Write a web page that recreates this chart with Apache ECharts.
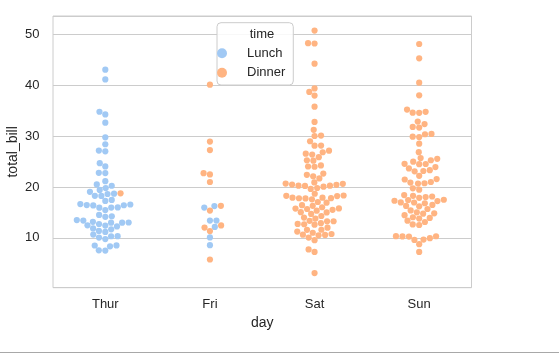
<!DOCTYPE html>
<html>
<head>
<meta charset="utf-8">
<script src="https://cdn.jsdelivr.net/npm/echarts@6/dist/echarts.min.js"></script>
<style>
html,body{margin:0;padding:0;background:#ffffff;}
#chart{width:559px;height:355px;}
</style>
</head>
<body>
<div id="chart"></div>
<script>
// ---- data (tips dataset: total_bill by day and time) ----
const days = ['Thur', 'Fri', 'Sat', 'Sun'];
const times = ['Lunch', 'Dinner'];
const yTickLabels = [10, 20, 30, 40, 50];

const thurLunch = [27.20, 22.76, 17.29, 19.44, 16.66, 10.07, 32.68, 15.98, 34.83, 13.03, 18.28, 24.71, 21.16,
  10.65, 12.43, 24.08, 11.69, 13.42, 14.26, 15.95, 12.48, 29.80, 8.52, 14.52, 11.38, 22.82, 19.08, 20.27,
  11.17, 12.26, 18.26, 8.51, 10.33, 14.15, 16.00, 13.16, 17.47, 34.30, 41.19, 27.05, 16.43, 8.35, 18.64,
  11.87, 9.78, 7.51, 19.81, 28.44, 15.48, 16.58, 7.56, 10.34, 43.11, 13.00, 13.51, 18.71, 12.74, 13.00,
  16.40, 20.53, 16.47];
const thurDinner = [18.78];

const friDinner = [28.97, 22.49, 5.75, 16.32, 22.75, 40.17, 27.28, 12.03, 21.01, 12.46, 11.35, 15.38];
const friLunch = [12.16, 13.42, 8.58, 15.98, 13.42, 16.27, 10.09];

const satDinner = [20.65, 17.92, 20.29, 15.77, 39.42, 19.82, 17.81, 13.37, 12.69, 21.70, 19.65, 9.55, 18.35,
  15.06, 20.69, 17.78, 24.06, 16.31, 16.93, 18.69, 31.27, 16.04,
  38.01, 26.41, 11.24, 48.27, 20.29, 13.81, 11.02, 18.29, 17.59, 20.08, 16.45, 3.07, 20.23, 15.01, 12.02,
  17.07, 26.86, 25.28, 14.73, 10.51, 17.92,
  44.30, 22.42, 20.92, 15.36, 20.49, 25.21, 18.24, 14.31, 14.00, 7.25,
  10.59, 10.63, 50.81, 15.81,
  26.59, 38.73, 24.27, 12.76, 30.06, 25.89, 48.33, 13.27, 28.17, 12.90, 28.15, 11.59, 7.74, 30.14,
  20.45, 13.28, 22.12, 24.01, 15.69, 11.61, 10.77, 15.53, 10.07, 12.60, 32.83, 35.83, 29.03, 27.18, 22.67, 17.82];

const sunDinner = [16.99, 10.34, 21.01, 23.68, 24.59, 25.29, 8.77, 26.88, 15.04, 14.78, 10.27, 35.26, 15.42,
  18.43, 14.83, 21.58, 10.33, 16.29, 16.97,
  17.46, 13.94, 9.68, 30.40, 18.29, 22.23, 32.40, 28.55, 18.04, 12.54, 10.29, 34.81, 9.94, 25.56, 19.49,
  38.07, 23.95, 25.71, 17.31, 29.93,
  14.07, 13.13, 17.26, 24.55, 19.77, 29.85, 48.17, 25.00, 13.39, 16.49, 21.50, 12.66, 16.21, 13.81, 17.51,
  24.52, 20.76, 31.71,
  7.25, 31.85, 16.82, 32.90, 17.89, 14.48, 9.60, 34.63, 34.65, 23.33, 45.35, 23.17, 40.55, 20.69, 20.90,
  30.46, 18.15, 23.10, 15.69];

// groups per day, in data order (used as tie-break in the swarm)
const dayGroups = [
  [[thurLunch, 'Lunch'], [thurDinner, 'Dinner']],
  [[friDinner, 'Dinner'], [friLunch, 'Lunch']],
  [[satDinner, 'Dinner']],
  [[sunDinner, 'Dinner']]
];

const colors = { Lunch: '#a1c9f4', Dinner: '#ffb482' };
const textColor = '#262626';
const fontFam = '"Liberation Sans", Arial, sans-serif';
const SWARM_D = 6.2;      // marker collision diameter, px
const MARK_SIZE = 6.2;    // drawn marker size, px

const chart = echarts.init(document.getElementById('chart'), null, { renderer: 'canvas' });

const baseOption = {
  animation: false,
  backgroundColor: '#ffffff',
  textStyle: { fontFamily: fontFam },
  grid: {
    left: 53, top: 16, right: 87.5, bottom: 67.3,
    show: true, borderColor: '#cccccc', borderWidth: 1, backgroundColor: 'transparent',
    containLabel: false, outerBoundsMode: 'none'
  },
  xAxis: [
    {
      type: 'category', data: days, boundaryGap: true, position: 'bottom',
      axisLine: { show: false }, axisTick: { show: false }, splitLine: { show: false },
      axisLabel: { color: textColor, fontSize: 13, margin: 10, fontFamily: fontFam },
      name: 'day', nameLocation: 'middle', nameGap: 28, nameMoveOverlap: false,
      nameTextStyle: { color: textColor, fontSize: 14, fontFamily: fontFam }
    },
    { type: 'value', min: -0.5, max: 3.5, show: false, position: 'bottom' }
  ],
  yAxis: {
    type: 'value', min: 0.2, max: 53.68, splitNumber: 5,
    axisLine: { show: false }, axisTick: { show: false },
    splitLine: { show: true, lineStyle: { color: '#cccccc', width: 1 } },
    axisLabel: {
      color: textColor, fontSize: 13, margin: 13.5, fontFamily: fontFam,
      showMinLabel: false, showMaxLabel: false,
      formatter: v => (yTickLabels.indexOf(Math.round(v * 100) / 100) >= 0 ? String(v) : '')
    },
    name: 'total_bill', nameLocation: 'middle', nameGap: 33, nameMoveOverlap: false,
    nameTextStyle: { color: textColor, fontSize: 14, fontFamily: fontFam }
  },
  series: []
};

chart.setOption(baseOption);

// pixel scales from the library's axes
const yPx0 = chart.convertToPixel({ yAxisIndex: 0 }, 0);
const yPx1 = chart.convertToPixel({ yAxisIndex: 0 }, 10);
const pxPerY = Math.abs(yPx1 - yPx0) / 10;
const xPx0 = chart.convertToPixel({ xAxisIndex: 1 }, 0);
const xPx1 = chart.convertToPixel({ xAxisIndex: 1 }, 1);
const pxPerX = Math.abs(xPx1 - xPx0);

// seaborn-style beeswarm in pixel space (neighbours taken in ascending order)
function beeswarm(ys, d) {
  const idx = ys.map((_, i) => i).sort((a, b) => (ys[a] - ys[b]) || (a - b));
  const out = new Array(ys.length);
  const placed = [];
  for (const i of idx) {
    const y = ys[i];
    const nb = [];
    for (let k = placed.length - 1; k >= 0; k--) {
      if (y - placed[k].y < d) nb.push(placed[k]); else break;
    }
    nb.reverse();
    const cands = [0];
    let leftFirst = true;
    for (const n of nb) {
      const dy = y - n.y;
      const dx = Math.sqrt(Math.max(d * d - dy * dy, 0)) * 1.05;
      if (leftFirst) cands.push(n.x - dx, n.x + dx); else cands.push(n.x + dx, n.x - dx);
      leftFirst = !leftFirst;
    }
    const order = cands.map((_, j) => j).sort((a, b) => (Math.abs(cands[a]) - Math.abs(cands[b])) || (a - b));
    let chosen = 0;
    if (nb.length) {
      for (const j of order) {
        const x = cands[j];
        if (nb.every(n => (n.x - x) * (n.x - x) + (n.y - y) * (n.y - y) >= d * d - 1e-9)) { chosen = x; break; }
      }
    }
    placed.push({ x: chosen, y: y });
    out[i] = chosen;
  }
  return out;
}

const seriesData = { Lunch: [], Dinner: [] };
dayGroups.forEach((parts, dayIdx) => {
  const vals = [], labs = [];
  parts.forEach(([arr, t]) => arr.forEach(v => { vals.push(v); labs.push(t); }));
  const offs = beeswarm(vals.map(v => v * pxPerY), SWARM_D);
  vals.forEach((v, i) => seriesData[labs[i]].push([dayIdx + offs[i] / pxPerX, v]));
});

chart.setOption({
  legend: {
    data: times.map(t => ({ name: t, icon: 'circle', itemStyle: { color: colors[t] } })),
    orient: 'vertical', left: 217, top: 22.7,
    padding: [23.6, 8, 5.3, 0],
    itemWidth: 40, itemHeight: 10, itemGap: 5.4,
    symbolKeepAspect: true,
    backgroundColor: 'rgba(255,255,255,0.85)', borderColor: '#cccccc', borderWidth: 1, borderRadius: 4,
    textStyle: { color: textColor, fontSize: 13, lineHeight: 14, fontFamily: fontFam },
    selectedMode: false, z: 10
  },
  graphic: [
    {
      type: 'text', x: 262, y: 34, z: 100,
      style: { text: 'time', fill: textColor, font: '13px ' + fontFam, textAlign: 'center', textVerticalAlign: 'middle' }
    },
    {
      type: 'line', z: 100,
      shape: { x1: 0, y1: 352.5, x2: 559, y2: 352.5 },
      style: { stroke: '#a8a8a8', lineWidth: 1.2 }
    }
  ],
  series: times.map(t => ({
    name: t, type: 'scatter', xAxisIndex: 1, yAxisIndex: 0,
    symbol: 'circle', symbolSize: MARK_SIZE,
    itemStyle: { color: colors[t], opacity: 1 },
    data: seriesData[t]
  }))
});
</script>
</body>
</html>
